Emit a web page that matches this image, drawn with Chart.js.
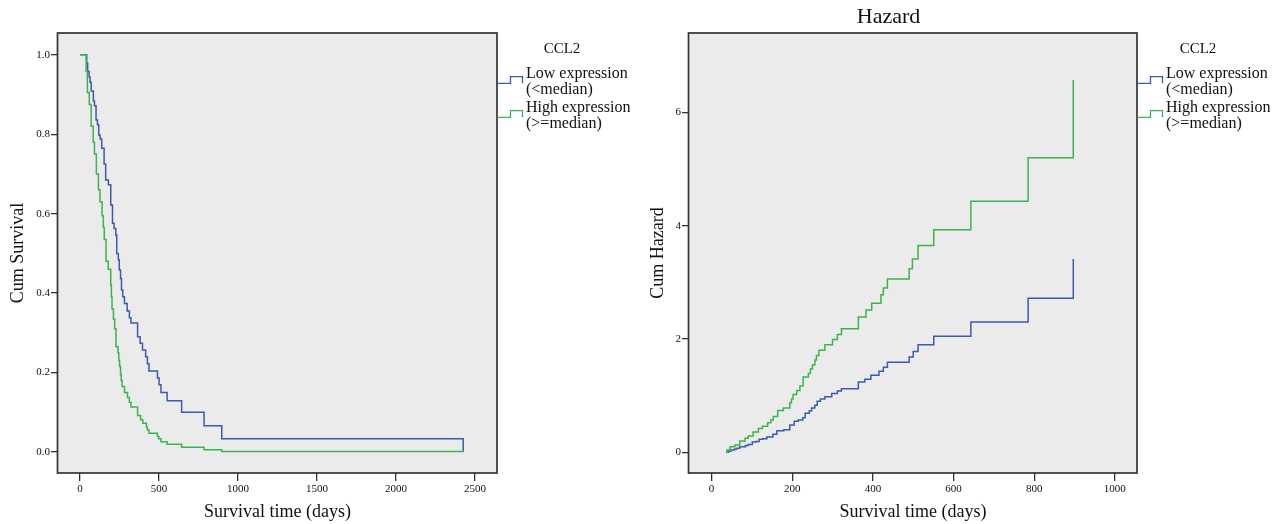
<!DOCTYPE html>
<html>
<head>
<meta charset="utf-8">
<script src="https://cdn.jsdelivr.net/npm/chart.js@4.4.1/dist/chart.umd.min.js"></script>
<style>
  html, body { margin: 0; padding: 0; background: #ffffff; }
  #wrap { position: relative; width: 1280px; height: 524px; overflow: hidden; }
  canvas { position: absolute; top: 0; }
  #c1 { left: 0; }
  #c2 { left: 640px; }
</style>
</head>
<body>
<div id="wrap">
  <canvas id="c1" width="640" height="524"></canvas>
  <canvas id="c2" width="640" height="524"></canvas>
</div>
<script>
// ---------------- DATA ----------------
const legendTitle = "CCL2";
const seriesNames = [["Low expression", "(<median)"], ["High expression", "(>=median)"]];

// Survival (Kaplan-Meier) - low expression
const survTimeLow = [0,42,48,57,63,70,84,91,101,110,118,127,137,152,162,179,194,205,215,226,232,242,248,256,262,270,281,298,312,322,364,380,395,415,426,436,490,500,512,551,643,785,897,2426];
const survLow = [1.0,0.979,0.958,0.944,0.931,0.909,0.884,0.872,0.836,0.824,0.798,0.788,0.765,0.725,0.685,0.673,0.622,0.576,0.563,0.546,0.500,0.484,0.458,0.437,0.408,0.391,0.374,0.355,0.338,0.325,0.290,0.274,0.257,0.240,0.222,0.204,0.186,0.169,0.150,0.129,0.100,0.066,0.033,0.0];

// Survival - high expression
const survTimeHigh = [0,38,46,58,70,83,91,103,116,126,139,147,153,164,178,194,198,202,211,219,227,240,245,250,256,260,266,281,300,312,322,364,383,397,420,426,436,490,498,512,551,643,785,897,2426];
const survHigh = [1.0,0.958,0.905,0.875,0.82,0.78,0.75,0.70,0.66,0.63,0.595,0.565,0.535,0.48,0.46,0.42,0.39,0.36,0.335,0.31,0.265,0.25,0.23,0.215,0.195,0.18,0.165,0.15,0.137,0.125,0.113,0.092,0.081,0.072,0.062,0.055,0.047,0.039,0.033,0.026,0.0196,0.0119,0.0055,0.0014,0.0];

// Cumulative hazard - low expression
const hazTimeLow = [38,42,48,57,63,70,84,91,101,110,118,127,137,152,162,179,194,205,215,226,232,242,248,256,262,270,281,298,312,322,364,380,395,415,426,436,490,500,512,551,643,785,897];
const hazLow = [0,0.02,0.04,0.06,0.07,0.10,0.12,0.14,0.18,0.19,0.23,0.24,0.27,0.32,0.38,0.40,0.48,0.55,0.57,0.61,0.69,0.73,0.78,0.83,0.90,0.94,0.98,1.04,1.08,1.12,1.24,1.29,1.36,1.43,1.50,1.59,1.68,1.78,1.90,2.05,2.30,2.72,3.41];

// Cumulative hazard - high expression
const hazTimeHigh = [36,38,46,58,70,83,91,103,116,126,139,147,153,164,178,194,198,202,211,219,227,240,245,250,256,260,266,281,300,312,322,364,383,397,420,426,436,490,498,512,551,643,785,897];
const hazHigh = [0,0.04,0.10,0.13,0.20,0.25,0.29,0.36,0.42,0.46,0.52,0.57,0.63,0.74,0.78,0.87,0.94,1.02,1.09,1.17,1.33,1.39,1.47,1.54,1.63,1.71,1.80,1.90,1.99,2.08,2.18,2.39,2.51,2.63,2.78,2.90,3.06,3.24,3.41,3.65,3.93,4.43,5.20,6.57];

// Tick labels
const survXTicks = [0, 500, 1000, 1500, 2000, 2500];
const survYTicks = [0.0, 0.2, 0.4, 0.6, 0.8, 1.0];
const hazXTicks = [0, 200, 400, 600, 800, 1000];
const hazYTicks = [0, 2, 4, 6];

// ---------------- STYLE ----------------
const FONT = "'Liberation Serif', 'Times New Roman', serif";
const BLUE = "#3A5BAE";
const GREEN = "#3DB34F";
const BG = "#EBEBEB";
const AXIS = "#333333";

function pts(ts, vs) { return ts.map((t, i) => ({ x: t, y: vs[i] })); }

const plotFramePlugin = {
  id: 'plotFrame',
  beforeDraw(chart) {
    const { ctx, chartArea: a } = chart;
    ctx.save();
    ctx.fillStyle = BG;
    ctx.fillRect(a.left, a.top, a.right - a.left, a.bottom - a.top);
    ctx.restore();
  },
  afterDraw(chart) {
    const { ctx, chartArea: a } = chart;
    ctx.save();
    ctx.strokeStyle = AXIS;
    ctx.lineWidth = 1.7;
    ctx.strokeRect(a.left - 0.5, a.top, a.right - a.left + 0.5, a.bottom - a.top);
    ctx.restore();
  }
};

const legendPlugin = {
  id: 'stepLegend',
  afterDraw(chart, args, opts) {
    const ctx = chart.ctx;
    ctx.save();
    ctx.fillStyle = '#111';
    ctx.textBaseline = 'alphabetic';
    ctx.font = "15px " + FONT;
    ctx.textAlign = 'center';
    ctx.fillText(legendTitle, opts.titleX, 53.3);
    ctx.textAlign = 'left';
    ctx.font = "16px " + FONT;
    const colors = [BLUE, GREEN];
    const lows = [83.3, 117.3];
    const baselines = [[78.3, 94.3], [111.6, 127.6]];
    for (let i = 0; i < 2; i++) {
      ctx.strokeStyle = colors[i];
      ctx.lineWidth = 1.3;
      ctx.beginPath();
      ctx.moveTo(497, lows[i]);
      ctx.lineTo(510.5, lows[i]);
      ctx.lineTo(510.5, lows[i] - 6.7);
      ctx.lineTo(522.5, lows[i] - 6.7);
      ctx.lineTo(522.5, lows[i]);
      ctx.stroke();
      ctx.fillStyle = '#111';
      ctx.fillText(seriesNames[i][0], 526, baselines[i][0]);
      ctx.fillText(seriesNames[i][1], 526, baselines[i][1]);
    }
    ctx.restore();
  }
};

function makeChart(canvasId, cfg) {
  const areaLeft = cfg.areaLeft;
  return new Chart(document.getElementById(canvasId), {
    type: 'line',
    data: {
      datasets: [
        { label: seriesNames[1].join(' '), data: cfg.high, borderColor: GREEN, borderWidth: 1.5, stepped: 'before', pointRadius: 0, fill: false, order: 0 },
        { label: seriesNames[0].join(' '), data: cfg.low, borderColor: BLUE, borderWidth: 1.5, stepped: 'before', pointRadius: 0, fill: false, order: 1 }
      ]
    },
    options: {
      responsive: false,
      animation: false,
      devicePixelRatio: 1,
      layout: { padding: { left: 0, right: 143, top: cfg.title ? 0 : 33, bottom: 0 } },
      plugins: {
        legend: { display: false },
        tooltip: { enabled: false },
        title: cfg.title ? {
          display: true, text: cfg.title, color: '#111',
          font: { family: FONT, size: 22, weight: 'normal', lineHeight: 1.2 },
          padding: { top: 4.5, bottom: 2.1 }
        } : { display: false },
        stepLegend: { titleX: cfg.legendTitleX }
      },
      scales: {
        x: {
          type: 'linear', min: cfg.xMin, max: cfg.xMax,
          afterBuildTicks: (s) => { s.ticks = cfg.xTicks.map(v => ({ value: v })); },
          afterFit: (s) => { s.height = 51; },
          ticks: { color: '#111', padding: 2, maxRotation: 0, autoSkip: false, font: { family: FONT, size: 11 }, callback: (v) => String(v) },
          grid: { drawOnChartArea: false, drawTicks: true, tickLength: 8, color: AXIS, lineWidth: 1.3 },
          border: { display: false },
          title: { display: true, text: 'Survival time (days)', color: '#111', font: { family: FONT, size: 18, lineHeight: 1.2 }, padding: { top: 0, bottom: 1.2 } }
        },
        y: {
          type: 'linear', min: cfg.yMin, max: cfg.yMax,
          afterBuildTicks: (s) => { s.ticks = cfg.yTicks.map(v => ({ value: v })); },
          afterFit: (s) => { s.width = areaLeft; },
          ticks: { color: '#111', padding: 1, autoSkip: false, font: { family: FONT, size: 11 }, callback: cfg.yFmt },
          grid: { drawOnChartArea: false, drawTicks: true, tickLength: 7, color: AXIS, lineWidth: 1.3 },
          border: { display: false },
          title: { display: true, text: cfg.yTitle, color: '#111', font: { family: FONT, size: 18, lineHeight: 1.2 }, padding: { top: 7.7, bottom: 0 } }
        }
      }
    },
    plugins: [plotFramePlugin, legendPlugin]
  });
}

makeChart('c1', {
  areaLeft: 58,
  low: pts(survTimeLow, survLow),
  high: pts(survTimeHigh, survHigh),
  xMin: -140, xMax: 2640, yMin: -0.053, yMax: 1.055,
  xTicks: survXTicks, yTicks: survYTicks,
  yFmt: (v) => Number(v).toFixed(1),
  yTitle: 'Cum Survival',
  legendTitleX: 562
});

makeChart('c2', {
  areaLeft: 49,
  low: pts(hazTimeLow, hazLow),
  high: pts(hazTimeHigh, hazHigh),
  xMin: -56, xMax: 1055, yMin: -0.365, yMax: 7.40,
  xTicks: hazXTicks, yTicks: hazYTicks,
  yFmt: (v) => String(v),
  yTitle: 'Cum Hazard',
  title: 'Hazard',
  legendTitleX: 558
});
</script>
</body>
</html>
